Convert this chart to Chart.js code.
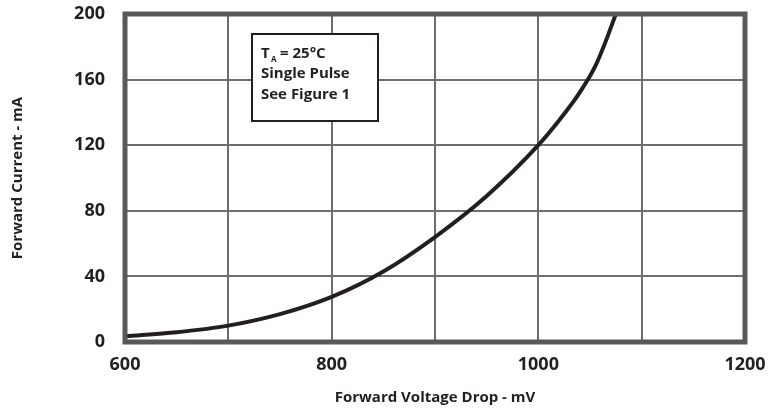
<!DOCTYPE html>
<html>
<head>
<meta charset="utf-8">
<script src="https://cdn.jsdelivr.net/npm/chart.js@4.4.1/dist/chart.umd.min.js"></script>
<style>
  html, body { margin: 0; padding: 0; background: #fff; }
  #wrap { width: 769px; height: 412px; position: relative; }
</style>
</head>
<body>
<div id="wrap"><canvas id="fwdChart"></canvas></div>
<script>
// values
const voltageMv = [600, 650, 700, 750, 800, 850, 900, 950, 1000, 1020, 1040, 1055, 1065, 1075];
const currentMa = [3.5, 6, 10, 17, 27.5, 43, 64, 89, 120, 135, 152, 168, 183, 200];
const xLabelTicks = [600, 800, 1000, 1200];
const noteLines = ["= 25°C", "Single Pulse", "See Figure 1"];

const FONT = "'Open Sans', 'DejaVu Sans', sans-serif";
const GRID = "#6d6e71";
const FRAME = "#58595b";

// thick frame round the plot + the conditions box
const framePlugin = {
  id: "frameAndNote",
  afterDatasetsDraw(chart) {
    const { ctx, chartArea: a } = chart;
    ctx.save();
    ctx.strokeStyle = FRAME;
    ctx.lineWidth = 5;
    ctx.strokeRect(a.left, a.top, a.right - a.left, a.bottom - a.top);

    // note box
    const bx = 252, by = 34, bw = 126, bh = 87;
    ctx.fillStyle = "#fff";
    ctx.fillRect(bx, by, bw, bh);
    ctx.strokeStyle = "#231f20";
    ctx.lineWidth = 2;
    ctx.strokeRect(bx, by, bw, bh);

    ctx.fillStyle = "#231f20";
    ctx.textBaseline = "alphabetic";
    ctx.textAlign = "left";
    ctx.font = `bold 15px ${FONT}`;
    ctx.fillText("T", 261, 58);
    ctx.font = `bold 8px ${FONT}`;
    ctx.fillText("A", 271, 62);
    ctx.font = `bold 15px ${FONT}`;
    ctx.fillText(noteLines[0], 280, 58);
    ctx.fillText(noteLines[1], 261, 78);
    ctx.fillText(noteLines[2], 261, 99);
    ctx.restore();
  }
};

const ctx = document.getElementById("fwdChart").getContext("2d");
new Chart(ctx, {
  type: "line",
  data: {
    datasets: [{
      data: voltageMv.map((v, i) => ({ x: v, y: currentMa[i] })),
      borderColor: "#231f20",
      borderWidth: 4,
      pointRadius: 0,
      cubicInterpolationMode: "monotone",
      fill: false
    }]
  },
  options: {
    responsive: true,
    maintainAspectRatio: false,
    animation: false,
    layout: { padding: { top: 14, right: 24, left: 0, bottom: 0 } },
    plugins: {
      legend: { display: false },
      tooltip: { enabled: false }
    },
    scales: {
      x: {
        type: "linear",
        min: 600,
        max: 1200,
        afterFit: s => { s.height = 70; s.paddingLeft = 0; s.paddingRight = 0; },
        grid: { color: GRID, lineWidth: 2, drawTicks: false },
        border: { display: false },
        ticks: {
          stepSize: 100,
          padding: 12,
          color: "#231f20",
          font: { family: FONT, size: 18, weight: "bold" },
          maxRotation: 0,
          autoSkip: false,
          callback: v => xLabelTicks.includes(v) ? String(v) : ""
        },
        title: {
          display: true,
          text: "Forward Voltage Drop - mV",
          color: "#231f20",
          font: { family: FONT, size: 15, weight: "bold" },
          padding: { top: 0, bottom: 5 }
        }
      },
      y: {
        min: 0,
        max: 200,
        afterFit: s => { s.width = 125; s.paddingTop = 0; s.paddingBottom = 0; },
        grid: { color: GRID, lineWidth: 2, drawTicks: false },
        border: { display: false },
        ticks: {
          stepSize: 40,
          padding: 20,
          color: "#231f20",
          font: { family: FONT, size: 18, weight: "bold" }
        },
        title: {
          display: true,
          text: "Forward Current - mA",
          color: "#231f20",
          font: { family: FONT, size: 15, weight: "bold" },
          padding: { top: 9, bottom: 0 }
        }
      }
    }
  },
  plugins: [framePlugin]
});
</script>
</body>
</html>
